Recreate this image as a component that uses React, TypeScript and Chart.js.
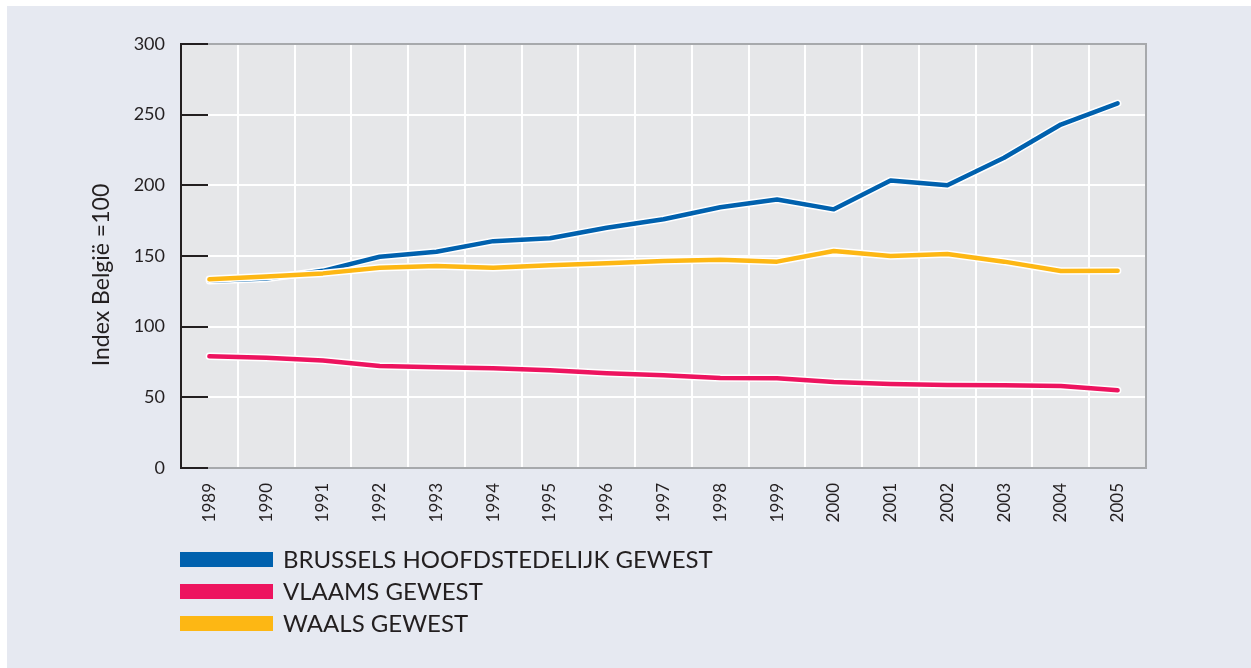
import React, { useEffect, useRef } from "react";
import { Chart, registerables } from "chart.js";

Chart.register(...registerables);

const years = ["1989", "1990", "1991", "1992", "1993", "1994", "1995", "1996", "1997", "1998", "1999", "2000", "2001", "2002", "2003", "2004", "2005"];
const brussels = [132.5, 134, 139.5, 149.5, 153, 160.5, 162.5, 170, 176, 184.5, 190, 183, 203.5, 200, 219.5, 243, 258];
const vlaams = [79, 78, 76, 72.2, 71.2, 70.5, 69.1, 67, 65.6, 63.7, 63.5, 60.8, 59.4, 58.7, 58.5, 58, 55];
const waals = [133.5, 135.5, 137.7, 141.7, 142.9, 141.7, 143.4, 144.8, 146.5, 147.4, 146, 153.5, 150, 151.4, 146, 139.4, 139.6];
const seriesNames = ["BRUSSELS HOOFDSTEDELIJK GEWEST", "VLAAMS GEWEST", "WAALS GEWEST"];
const seriesColors = ["#0061ae", "#ed145f", "#fdb714"];
const yTitle = "Index België =100";

const FONT = "Lato, 'Open Sans', sans-serif";
const DARK = "#231f20";

const framePlugin = {
  id: "frame",
  beforeDraw(chart: any) {
    const { ctx, chartArea: a } = chart;
    ctx.save();
    ctx.fillStyle = "#e6e7e9";
    ctx.fillRect(a.left, a.top, a.right - a.left, a.bottom - a.top);
    ctx.restore();
  },
  beforeDatasetsDraw(chart: any) {
    const { ctx, chartArea: a } = chart;
    const y = chart.scales.y;
    ctx.save();
    ctx.lineCap = "butt";
    ctx.strokeStyle = "#a7a9ac";
    ctx.lineWidth = 2;
    ctx.beginPath();
    ctx.moveTo(a.left, a.top);
    ctx.lineTo(a.right, a.top);
    ctx.lineTo(a.right, a.bottom);
    ctx.lineTo(a.left, a.bottom);
    ctx.stroke();
    ctx.strokeStyle = DARK;
    ctx.lineWidth = 2;
    ctx.beginPath();
    ctx.moveTo(a.left, a.top - 1);
    ctx.lineTo(a.left, a.bottom + 1);
    ctx.stroke();
    y.ticks.forEach((t: any) => {
      const py = Math.round(y.getPixelForValue(t.value));
      ctx.beginPath();
      ctx.moveTo(a.left, py);
      ctx.lineTo(a.left + 27, py);
      ctx.stroke();
    });
    ctx.restore();
  },
  afterDraw(chart: any) {
    const { ctx } = chart;
    const ds = chart.data.datasets.filter((d: any) => d.isMain);
    ctx.save();
    ctx.font = `24px ${FONT}`;
    ctx.textBaseline = "middle";
    ctx.textAlign = "left";
    ds.forEach((d: any, i: number) => {
      const top = 546 + i * 32;
      ctx.fillStyle = d.borderColor;
      ctx.fillRect(173, top, 93, 15);
      ctx.fillStyle = DARK;
      ctx.fillText(d.label, 276, top + 8);
    });
    // y-axis title
    ctx.translate(95, 269);
    ctx.rotate(-Math.PI / 2);
    ctx.font = `23px ${FONT}`;
    ctx.textAlign = "center";
    ctx.fillText(yTitle, 0, 0);
    ctx.restore();
  },
};

export default function App() {
  const ref = useRef<HTMLCanvasElement>(null);
  useEffect(() => {
    if (!ref.current) return;
    const values = [brussels, vlaams, waals];
    const datasets: any[] = [];
    values.forEach((vals, i) => {
      const base = (values.length - i) * 2;
      datasets.push({
        label: "halo " + seriesNames[i],
        data: vals,
        borderColor: "#ffffff",
        borderWidth: 7.5,
        pointRadius: 0,
        tension: 0,
        borderCapStyle: "round",
        borderJoinStyle: "round",
        order: base,
        isMain: false,
      });
      datasets.push({
        label: seriesNames[i],
        data: vals,
        borderColor: seriesColors[i],
        backgroundColor: seriesColors[i],
        borderWidth: 4.5,
        pointRadius: 0,
        tension: 0,
        borderCapStyle: "round",
        borderJoinStyle: "round",
        order: base - 1,
        isMain: true,
      });
    });
    const chart = new Chart(ref.current, {
      type: "line",
      data: { labels: years, datasets },
      options: {
        responsive: false,
        animation: false,
        layout: { padding: { left: 0, top: 38, right: 105, bottom: 0 } },
        plugins: { legend: { display: false }, tooltip: { enabled: false } },
        scales: {
          x: {
            offset: true,
            grid: { color: "#ffffff", lineWidth: 2, offset: true, drawTicks: false },
            border: { display: false },
            ticks: {
              minRotation: 90,
              maxRotation: 90,
              padding: 15,
              color: DARK,
              font: { family: FONT, size: 17 },
            },
            afterFit: (s: any) => { s.height = 200; },
          },
          y: {
            min: 0,
            max: 300,
            grid: { color: "#ffffff", lineWidth: 2, drawTicks: false },
            border: { display: false },
            ticks: {
              stepSize: 50,
              padding: 16,
              color: DARK,
              font: { family: FONT, size: 18 },
            },
            afterFit: (s: any) => { s.width = 174; },
          },
        },
      },
      plugins: [framePlugin],
    });
    return () => chart.destroy();
  }, []);
  return (
    <div style={{ position: "absolute", left: 7, top: 6, width: 1244, height: 662, background: "#e6e9f1" }}>
      <canvas ref={ref} width={1244} height={662} style={{ display: "block" }} />
    </div>
  );
}
